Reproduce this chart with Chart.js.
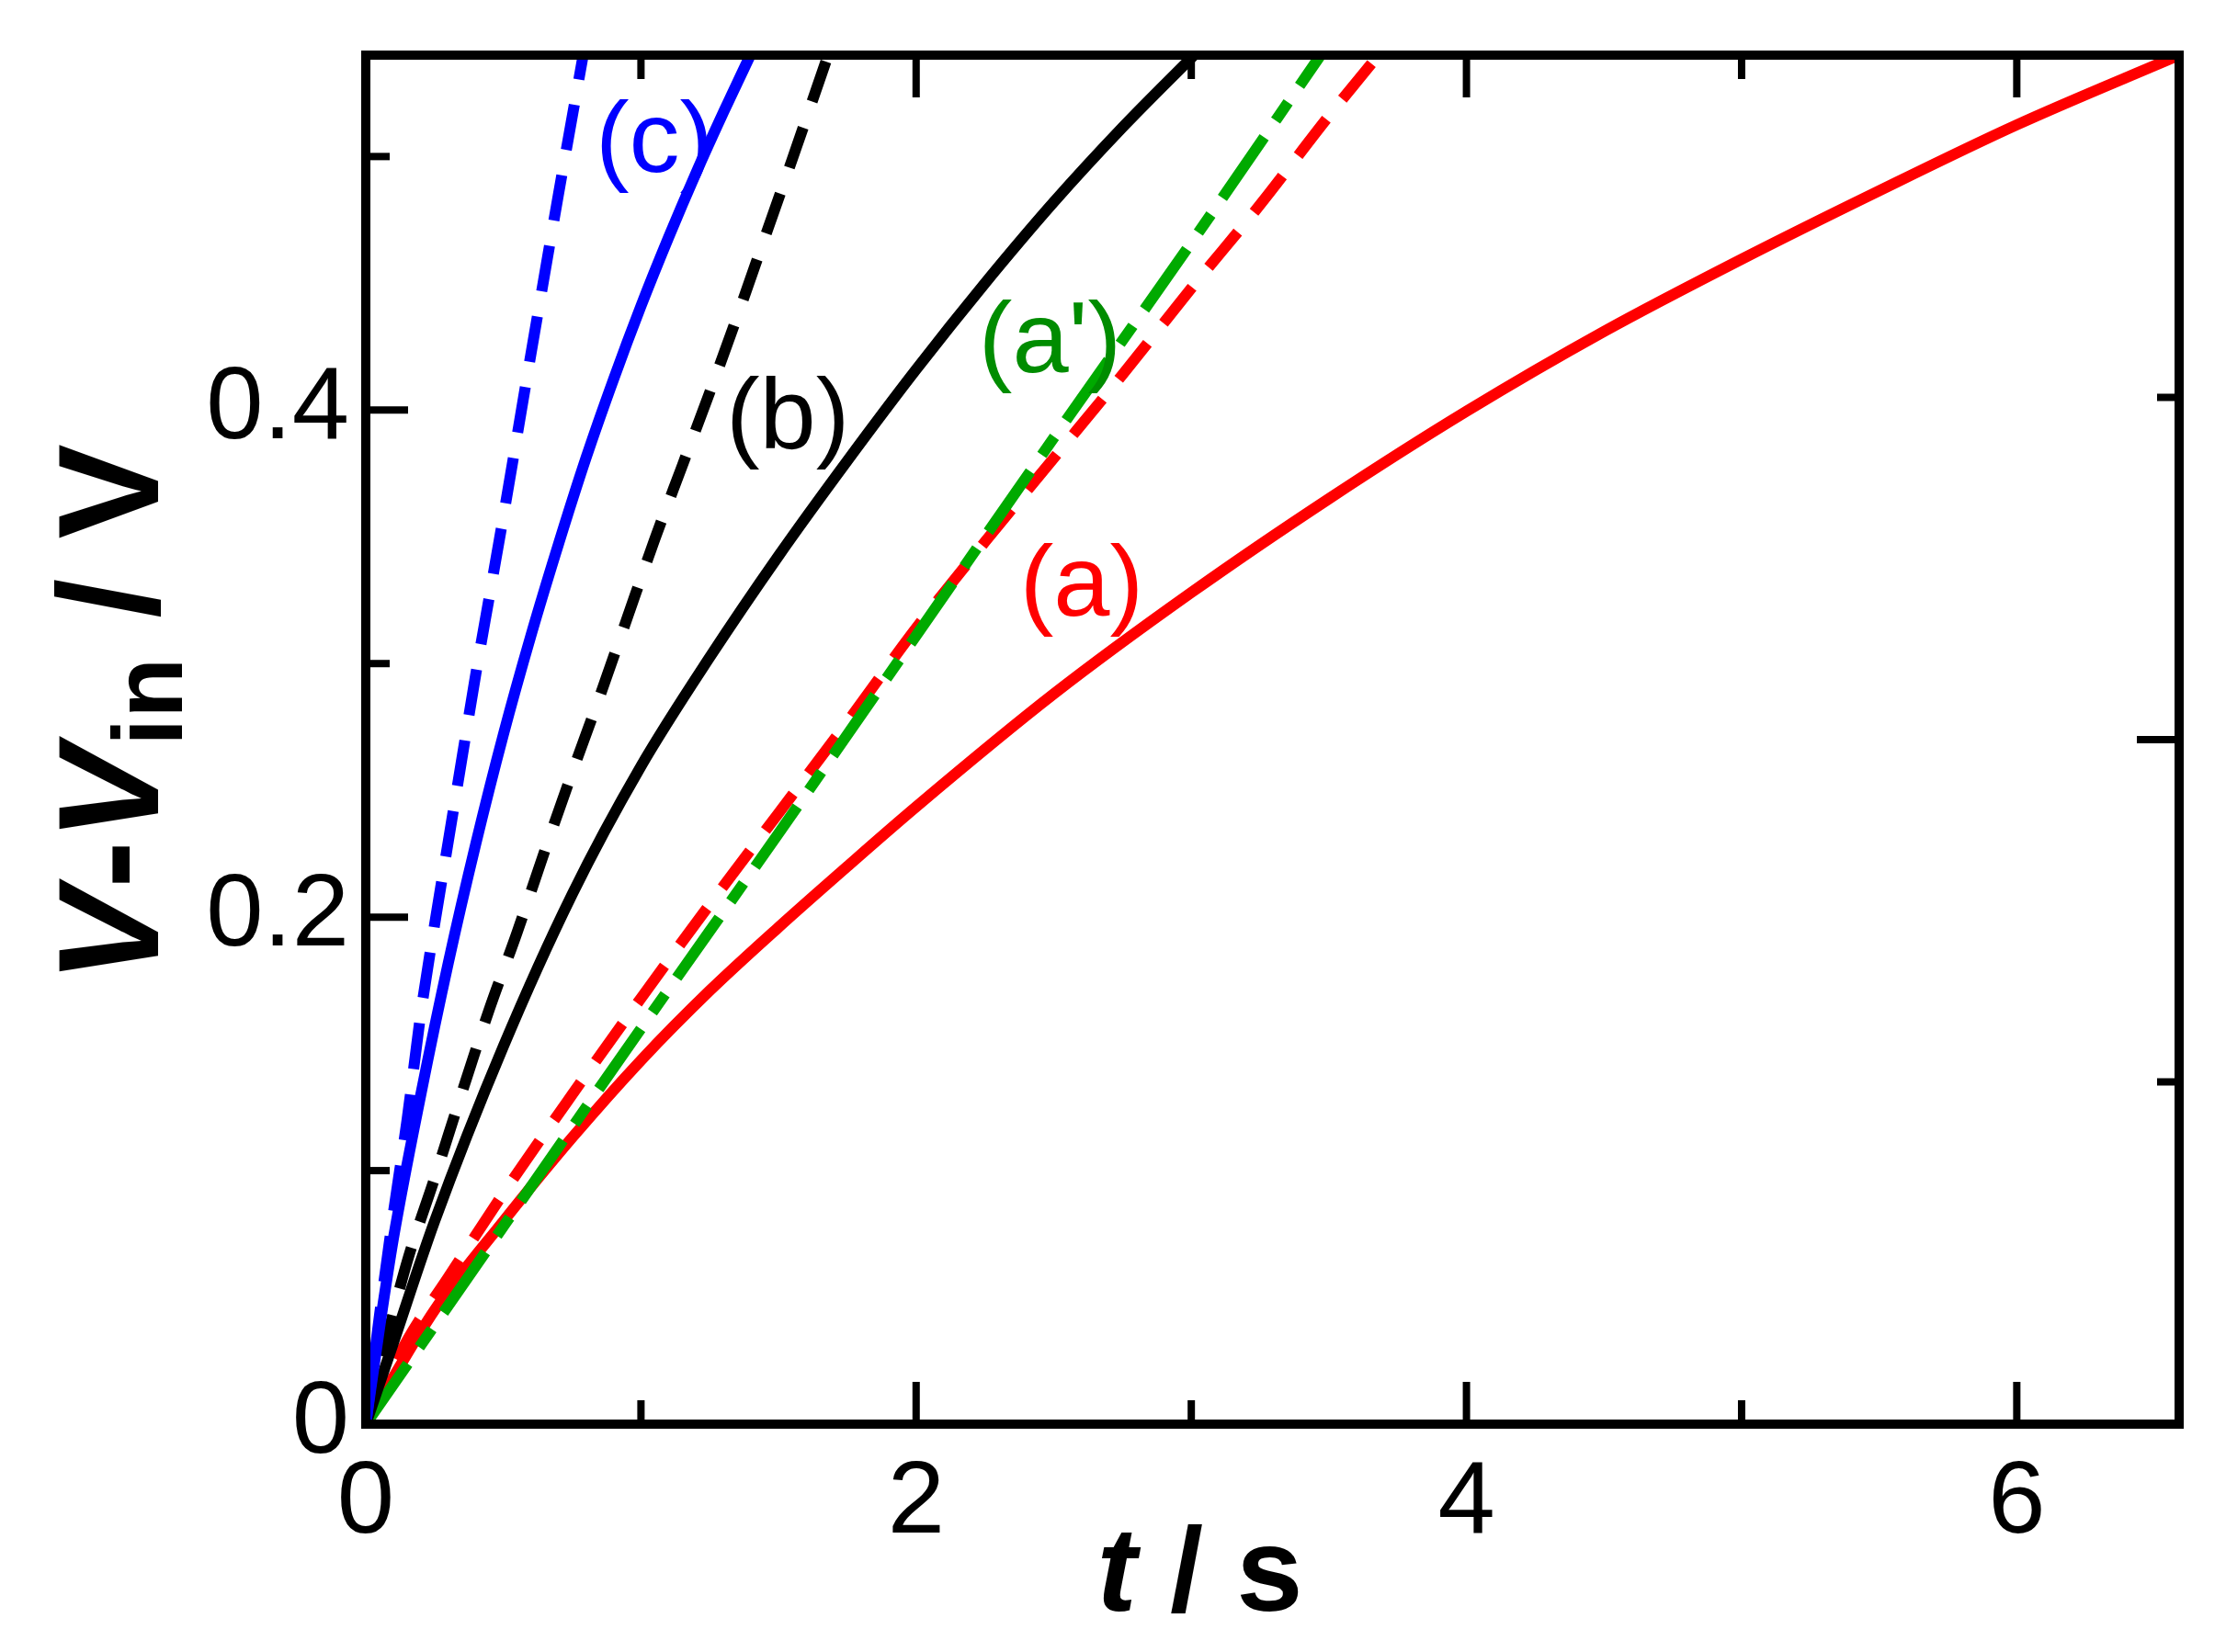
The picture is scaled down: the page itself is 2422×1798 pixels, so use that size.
<!DOCTYPE html>
<html>
<head>
<meta charset="utf-8">
<script src="https://cdn.jsdelivr.net/npm/chart.js@4.4.0/dist/chart.umd.min.js"></script>
<style>
  html, body { margin: 0; padding: 0; background: #fff; }
  canvas { display: block; }
</style>
</head>
<body>
<canvas id="chart" width="2422" height="1798"></canvas>
<script>
// (a) red solid
const timeA = [0, 0.25, 0.5, 0.75, 1.0, 1.25, 1.5, 1.75, 2.0, 2.5, 3.0, 3.5, 4.0, 4.5, 5.0, 5.5, 6.0, 6.59];
const voltA = [0, 0.045, 0.08, 0.113, 0.1435, 0.171, 0.196, 0.22, 0.2435, 0.288, 0.328, 0.365, 0.3995, 0.431, 0.4595, 0.4865, 0.5125, 0.54];
// red dashed
const timeADash = [0, 0.15, 0.3, 0.5, 0.75, 1.0, 1.25, 1.5, 1.75, 2.0, 2.25, 2.5, 2.75, 3.0, 3.25, 3.5, 3.68];
const voltADash = [0, 0.033, 0.058, 0.091, 0.13, 0.168, 0.205, 0.241, 0.277, 0.314, 0.348, 0.381, 0.414, 0.448, 0.481, 0.516, 0.54];
// (a') green dash-dot
const timeAPrime = [0, 0.5, 1.0, 1.5, 2.0, 2.5, 3.0, 3.47];
const voltAPrime = [0, 0.078, 0.156, 0.233, 0.311, 0.389, 0.466, 0.54];
// (b) black solid
const timeB = [0, 0.1, 0.25, 0.5, 0.75, 1.0, 1.25, 1.5, 1.75, 2.0, 2.25, 2.5, 2.75, 3.01];
const voltB = [0, 0.032, 0.08, 0.149, 0.209, 0.2595, 0.3025, 0.3425, 0.380, 0.416, 0.450, 0.482, 0.5115, 0.54];
// black dashed
const timeBDash = [0, 0.07, 0.15, 0.25, 0.35, 0.45, 0.55, 0.65, 0.75, 0.85, 0.95, 1.05, 1.15, 1.25, 1.35, 1.45, 1.55, 1.68];
const voltBDash = [0, 0.031, 0.064, 0.097, 0.131, 0.164, 0.194, 0.226, 0.257, 0.287, 0.318, 0.349, 0.378, 0.407, 0.437, 0.468, 0.499, 0.54];
// (c) blue solid
const timeC = [0, 0.05, 0.1, 0.2, 0.3, 0.4, 0.5, 0.6, 0.7, 0.8, 0.9, 1.0, 1.1, 1.2, 1.3, 1.413];
const voltC = [0, 0.038, 0.073, 0.13, 0.182, 0.229, 0.272, 0.311, 0.347, 0.381, 0.412, 0.441, 0.468, 0.4935, 0.5175, 0.5435];
// blue dashed
const timeCDash = [0, 0.05, 0.1, 0.15, 0.2, 0.25, 0.3, 0.35, 0.4, 0.45, 0.5, 0.6, 0.7, 0.79];
const voltCDash = [0, 0.043, 0.083, 0.12, 0.162, 0.197, 0.23, 0.263, 0.296, 0.327, 0.358, 0.422, 0.485, 0.54];

// axes
const xTickValues = [0, 2, 4, 6];
const xMinorTicks = [1, 3, 5];
const yTickValues = [0, 0.2, 0.4];
const yMinorTicks = [0.1, 0.3, 0.5];
const rightTicks = [0.135, 0.27, 0.405];
const rightTickMajor = [false, true, false];

// curve labels (anchor in data units)
const labelTexts = ['(c)', '(b)', "(a')", '(a)'];
const labelT = [0.835, 1.309, 2.227, 2.377];
const labelV = [0.505, 0.396, 0.426, 0.330];
const labelColors = ['#0000ff', '#000000', '#008c00', '#ff0000'];

const FONT = '"Liberation Sans", Arial, sans-serif';

function toPoints(ts, vs) {
    return ts.map((t, i) => ({ x: t, y: vs[i] }));
}

function lineSet(ts, vs, color, dash, width) {
    return {
        data: toPoints(ts, vs),
        showLine: true,
        borderColor: color,
        backgroundColor: color,
        borderWidth: width,
        borderDash: dash,
        borderCapStyle: 'butt',
        cubicInterpolationMode: 'monotone',
        pointRadius: 0,
        fill: false
    };
}

const frameAndTicks = {
    id: 'frameAndTicks',
    afterDatasetsDraw(chart) {
        const { ctx, chartArea: a, scales: { x, y } } = chart;
        ctx.save();
        ctx.strokeStyle = '#000';
        ctx.lineCap = 'butt';
        ctx.lineWidth = 8;
        const seg = (x1, y1, x2, y2) => {
            ctx.beginPath();
            ctx.moveTo(x1, y1);
            ctx.lineTo(x2, y2);
            ctx.stroke();
        };
        xTickValues.forEach(v => {
            if (v === 0) return;
            const px = x.getPixelForValue(v);
            seg(px, a.bottom, px, a.bottom - 46);
            seg(px, a.top, px, a.top + 46);
        });
        xMinorTicks.forEach(v => {
            const px = x.getPixelForValue(v);
            seg(px, a.bottom, px, a.bottom - 26);
            seg(px, a.top, px, a.top + 26);
        });
        yTickValues.forEach(v => {
            if (v === 0) return;
            const py = y.getPixelForValue(v);
            seg(a.left, py, a.left + 46, py);
        });
        yMinorTicks.forEach(v => {
            const py = y.getPixelForValue(v);
            seg(a.left, py, a.left + 26, py);
        });
        rightTicks.forEach((v, i) => {
            const py = y.getPixelForValue(v);
            seg(a.right, py, a.right - (rightTickMajor[i] ? 46 : 24), py);
        });
        ctx.lineWidth = 10;
        ctx.lineJoin = 'miter';
        ctx.strokeRect(a.left, a.top, a.right - a.left, a.bottom - a.top);
        ctx.restore();
    }
};

const curveLabels = {
    id: 'curveLabels',
    afterDatasetsDraw(chart) {
        const { ctx, scales: { x, y } } = chart;
        ctx.save();
        ctx.font = '110px ' + FONT;
        ctx.textAlign = 'left';
        ctx.textBaseline = 'middle';
        labelTexts.forEach((txt, i) => {
            ctx.fillStyle = labelColors[i];
            ctx.fillText(txt, x.getPixelForValue(labelT[i]), y.getPixelForValue(labelV[i]));
        });
        ctx.restore();
    }
};

function drawRuns(ctx, runs, cx, baseline) {
    let total = 0;
    runs.forEach(r => { ctx.font = r.font; r.w = ctx.measureText(r.text).width; total += r.w; });
    let pos = cx - total / 2;
    runs.forEach(r => {
        ctx.font = r.font;
        ctx.fillText(r.text, pos, baseline + (r.shift || 0));
        pos += r.w;
    });
}

const axisTitles = {
    id: 'axisTitles',
    afterDraw(chart) {
        const { ctx, chartArea: a } = chart;
        ctx.save();
        ctx.fillStyle = '#000';
        ctx.textAlign = 'left';
        ctx.textBaseline = 'alphabetic';
        drawRuns(ctx, [
            { text: 't', font: 'italic bold 130px ' + FONT },
            { text: ' / s', font: 'bold 130px ' + FONT }
        ], a.left + 0.46 * (a.right - a.left), a.bottom + 203);

        ctx.translate(a.left - 226, a.top + 0.481 * (a.bottom - a.top));
        ctx.rotate(-Math.PI / 2);
        drawRuns(ctx, [
            { text: 'V', font: 'italic bold 155px ' + FONT },
            { text: '-', font: 'bold 155px ' + FONT },
            { text: 'V', font: 'italic bold 155px ' + FONT },
            { text: 'in', font: 'bold 108px ' + FONT, shift: 26 },
            { text: ' / V', font: 'bold 155px ' + FONT }
        ], 0, 0);
        ctx.restore();
    }
};

new Chart(document.getElementById('chart'), {
    type: 'scatter',
    data: {
        datasets: [
            lineSet(timeCDash, voltCDash, '#0000ff', [50, 28], 12),
            lineSet(timeC, voltC, '#0000ff', [], 12),
            lineSet(timeBDash, voltBDash, '#000000', [46, 30], 12),
            lineSet(timeB, voltB, '#000000', [], 12),
            lineSet(timeAPrime, voltAPrime, '#00aa00', [80, 22, 24, 22], 12),
            lineSet(timeADash, voltADash, '#ff0000', [50, 28], 12),
            lineSet(timeA, voltA, '#ff0000', [], 12)
        ]
    },
    options: {
        responsive: false,
        animation: false,
        layout: { padding: { top: 60, right: 51, left: 0, bottom: 0 } },
        plugins: {
            legend: { display: false },
            tooltip: { enabled: false }
        },
        scales: {
            x: {
                type: 'linear',
                min: 0,
                max: 6.59,
                grid: { display: false, drawTicks: false },
                border: { display: false },
                afterBuildTicks: (scale) => { scale.ticks = xTickValues.map(v => ({ value: v })); },
                afterFit: (scale) => { scale.height = 248; scale.paddingLeft = 0; scale.paddingRight = 0; },
                ticks: {
                    color: '#000',
                    font: { family: FONT, size: 112 },
                    padding: 20,
                    autoSkip: false,
                    maxRotation: 0,
                    callback: (v) => String(v)
                }
            },
            y: {
                type: 'linear',
                min: 0,
                max: 0.54,
                grid: { display: false, drawTicks: false },
                border: { display: false },
                afterBuildTicks: (scale) => { scale.ticks = yTickValues.map(v => ({ value: v })); },
                afterFit: (scale) => { scale.width = 398; scale.paddingTop = 0; scale.paddingBottom = 0; },
                ticks: {
                    color: '#000',
                    font: { family: FONT, size: 112 },
                    padding: 18,
                    autoSkip: false,
                    callback: (v) => v === 0 ? '0' : v.toFixed(1)
                }
            }
        }
    },
    plugins: [frameAndTicks, curveLabels, axisTitles]
});
</script>
</body>
</html>
